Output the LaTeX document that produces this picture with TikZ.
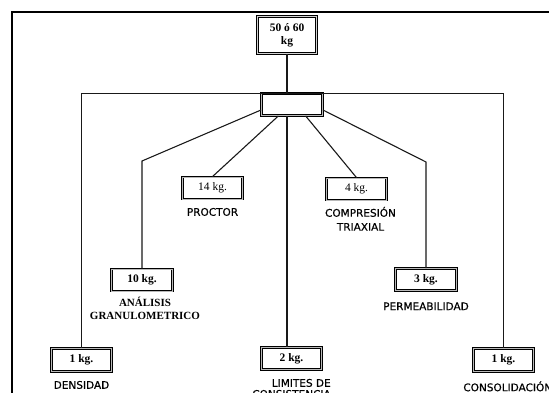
\documentclass[tikz,border=0pt]{standalone}
\usepackage{fontspec}
\setmainfont{Liberation Serif}
\newfontfamily\etiqfont[FakeBold=0.5]{DejaVu Sans}
\usepackage{tikz}
\usetikzlibrary{calc}
\usetikzlibrary{positioning}

\begin{document}
\begin{tikzpicture}[-,x=1pt,y=-1pt,line width=1.1pt,draw=black!90]
 				 \tikzstyle{caja}=[draw=black, rectangle, double=gray!55, double distance=0.9pt, line width=0.85pt, fill=white, minimum width=60.5pt, minimum height=22pt, inner sep=1pt, font=\fontsize{11.5}{13}\selectfont]
 				 \tikzstyle{cajatop}=[caja, line width=1.4pt, double=gray!35, double distance=0.6pt, minimum width=58.8pt, minimum height=36.8pt, align=center, font=\bfseries\fontsize{11.5}{13}\selectfont]
 				 \tikzstyle{etiq}=[inner sep=0pt, font=\etiqfont\fontsize{10.5}{12.5}\selectfont, align=center]
 				 \tikzstyle{etiqb}=[inner sep=0pt, font=\bfseries\fontsize{11}{13}\selectfont, align=center]
 				 \useasboundingbox (0,0) rectangle (549,392);
 				 \clip (0,0) rectangle (549,392);
 				 % marco
 				 \draw[line width=1.5pt,black] (12,420) -- (12,12) -- (600,12);
 					 \node[cajatop]      (top) at (287,35)      {50 ó 60\\kg};
 					 \node[caja, minimum width=61pt] (hub) at (292,104.5) {};
 					 \node[caja]         (p14) at (212.5,188)   {14 kg.};
 					 \node[caja]         (p4)  at (356.5,189)   {4 kg.};
 					 \node[caja]         (p10) at (142,280)     {\textbf{10 kg.}};
 					 \node[caja]         (p3)  at (426,279.5)   {\textbf{3 kg.}};
 					 \node[caja, minimum height=23pt] (p1a) at (81.5,360) {\textbf{1 kg.}};
 					 \node[caja]         (p2)  at (291.5,358.5) {\textbf{2 kg.}};
 					 \node[caja, minimum height=23pt] (p1b) at (503.5,360) {\textbf{1 kg.}};
 					 \coordinate         (kl)  at (142,161);
 					 \coordinate         (kr)  at (426,162);
 					 % rotulos
 					 \node[etiq]  (lproctor) [below=8pt of p14]    {PROCTOR};
 					 \node[etiq]  (lcompr)   [below=6pt of p4, xshift=4pt] {COMPRESIÓN\\[1.5pt]TRIAXIAL};
 					 \node[etiqb] (lanal)    [below=5.4pt of p10, xshift=3pt] {ANÁLISIS\\GRANULOMETRICO};
 					 \node[etiq]  (lperm)    [below=11pt of p3]  {PERMEABILIDAD};
 					 \node[etiq]  (ldens)    [below=8.5pt of p1a] {DENSIDAD};
 					 \node[etiq, align=right] (llim) [below=8.5pt of p2] {LIMITES DE\\[-1.5pt]CONSISTENCIA};
 					 \node[etiq, anchor=north west] (lcons) at ($(p1b.south west)+(-10,9)$) {CONSOLIDACIÓN};
 					 \draw (p1a.north) -- (p1a.north |- hub.north) -- (p1b.north |- hub.north) -- (p1b.north);
 					 \draw (hub.190) -- (kl) -- (p10.north);
 					 \draw (hub.350) -- (kr) -- (p3.north);
 					  \path
 					 			(top.south) edge (top.south |- hub.north)
 					 			(top.south |- hub.south) edge (top.south |- p2.north)
 					 			(hub.220) edge (p14.north)
 					 			(hub.320) edge (p4.north);
				\end{tikzpicture}
\end{document}
